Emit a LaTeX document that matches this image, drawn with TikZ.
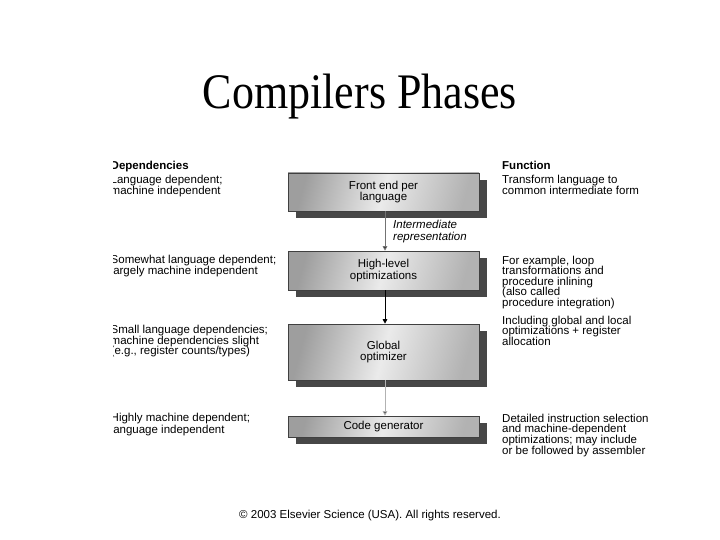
\documentclass[tikz,border=0pt]{standalone}
\usepackage{fontspec}
\setmainfont{Liberation Serif}
\newfontfamily\hv{Liberation Sans}
\usetikzlibrary{arrows.meta,shadows}
\begin{document}
\begin{tikzpicture}[x=1pt,y=-1pt,
  lbl/.style={anchor=base west,inner sep=0pt,font=\hv\fontsize{11.5}{10.7}\selectfont},
  hdr/.style={lbl,font=\hv\bfseries\fontsize{11.5}{10.7}\selectfont},
  itl/.style={lbl,font=\hv\itshape\fontsize{11.5}{10.7}\selectfont},
  stagebox/.style={draw=black!75,line width=0.6pt,inner sep=0pt,minimum width=191pt,
    left color=black!38,right color=black!30,middle color=black!8,shading angle=75,
    align=center,font=\hv\fontsize{11.5}{10.7}\selectfont,
    general shadow={fill=black!72,draw=none,shadow xshift=7.5pt,shadow yshift=-7pt}},
  flow/.style={line width=0.9pt,-{Triangle[width=4.5pt,length=4.5pt,fill=black]}}
]
\useasboundingbox (0,0) rectangle (720,540);
\fill[white] (0,0) rectangle (720,540);

\node[anchor=base,inner sep=0pt,font=\fontsize{44}{48}\selectfont,yscale=1.13] (title) at (360,108.5) {Compilers Phases};

% stages
\node[stagebox,minimum height=38pt] (fe) at (383.5,192) {Front end per\\language};
\node[stagebox,minimum height=39pt] (hl) at (383.5,270.5) {High-level\\optimizations};
\node[stagebox,minimum height=56pt] (go) at (383.5,352) {Global\\optimizer};
\node[stagebox,minimum height=21pt] (cg) at (383.5,426.5) {Code generator};

\draw[flow,draw=black!55] ([xshift=1.5pt]fe.south) -- ([xshift=1.5pt]hl.north);
\draw[flow,draw=black] ([xshift=1.5pt]hl.south) -- ([xshift=1.5pt]go.north);
\draw[flow,draw=black!30] ([xshift=1.5pt]go.south) -- ([xshift=1.5pt]cg.north);

\node[itl] (ir1) at (393,229) {Intermediate};
\node[itl] (ir2) at (393,240.5) {representation};

% left column (clipped at the left edge as in the picture)
\begin{scope}
\clip (113,150) rectangle (300,470);
\node[hdr] (d0) at (110.5,170) {Dependencies};
\node[lbl] (d1) at (110.5,184) {Language dependent;};
\node[lbl] (d2) at (110.5,195) {machine independent};
\node[lbl] (d3) at (110.5,263.5) {Somewhat language dependent;};
\node[lbl] (d4) at (110.5,274.5) {largely machine independent};
\node[lbl] (d5) at (110.5,333) {Small language dependencies;};
\node[lbl] (d6) at (110.5,344) {machine dependencies slight};
\node[lbl] (d7) at (110.5,354.5) {(e.g., register counts/types)};
\node[lbl] (d8) at (110.5,421.5) {Highly machine dependent;};
\node[lbl] (d9) at (110.5,433) {language independent};
\end{scope}

% right column
\node[hdr] (f0) at (502,170) {Function};
\node[lbl] (f1) at (502,184) {Transform language to};
\node[lbl] (f2) at (502,194.5) {common intermediate form};
\node[lbl] (f3) at (502,264) {For example, loop};
\node[lbl] (f4) at (502,274.5) {transformations and};
\node[lbl] (f5) at (502,285) {procedure inlining};
\node[lbl] (f6) at (502,295.5) {(also called};
\node[lbl] (f7) at (502,306.5) {procedure integration)};
\node[lbl] (f8) at (502,324) {Including global and local};
\node[lbl] (f9) at (502,334.5) {optimizations + register};
\node[lbl] (f10) at (502,345) {allocation};
\node[lbl] (f11) at (502,422) {Detailed instruction selection};
\node[lbl] (f12) at (502,432.7) {and machine-dependent};
\node[lbl] (f13) at (502,443.4) {optimizations; may include};
\node[lbl] (f14) at (502,454) {or be followed by assembler};

\node[anchor=base,inner sep=0pt,font=\hv\fontsize{11.5}{13}\selectfont] (copy) at (370,518) {© 2003 Elsevier Science (USA). All rights reserved.};
\end{tikzpicture}
\end{document}
